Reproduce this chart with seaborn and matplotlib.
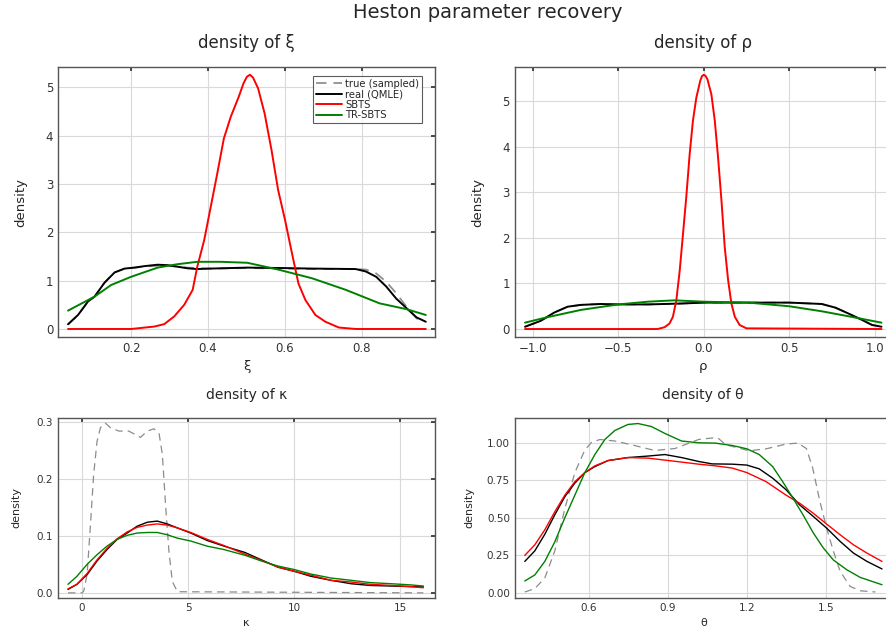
import numpy as np
import pandas as pd
import matplotlib
matplotlib.use("Agg")
import matplotlib.pyplot as plt
import seaborn as sns

SERIES = ["true (sampled)", "real (QMLE)", "SBTS", "TR-SBTS"]

# ---- xi ----
xi_true_x = [0.036, 0.062, 0.088, 0.105, 0.131, 0.157, 0.183, 0.209, 0.234, 0.269, 0.295, 0.32, 0.347, 0.372, 0.407, 0.502, 0.6, 0.67, 0.784, 0.81, 0.837, 0.863, 0.889, 0.916, 0.942, 0.96]
xi_true_y = [0.097, 0.29, 0.57, 0.67, 0.96, 1.17, 1.25, 1.27, 1.29, 1.31, 1.31, 1.29, 1.27, 1.26, 1.25, 1.26, 1.25, 1.24, 1.24, 1.23, 1.15, 0.98, 0.74, 0.46, 0.22, 0.13]
xi_qmle_x = [0.036, 0.062, 0.088, 0.105, 0.131, 0.157, 0.183, 0.209, 0.234, 0.269, 0.295, 0.32, 0.347, 0.372, 0.407, 0.502, 0.6, 0.67, 0.784, 0.81, 0.837, 0.863, 0.889, 0.916, 0.942, 0.966]
xi_qmle_y = [0.097, 0.29, 0.57, 0.67, 0.96, 1.17, 1.25, 1.27, 1.30, 1.33, 1.32, 1.29, 1.255, 1.24, 1.25, 1.27, 1.26, 1.25, 1.24, 1.19, 1.08, 0.88, 0.63, 0.43, 0.24, 0.15]
xi_sbts_x = [0.036, 0.2, 0.26, 0.286, 0.312, 0.338, 0.36, 0.372, 0.39, 0.407, 0.424, 0.441, 0.459, 0.48, 0.492, 0.501, 0.509, 0.517, 0.53, 0.547, 0.565, 0.582, 0.6, 0.618, 0.635, 0.653, 0.679, 0.705, 0.74, 0.784, 0.966]
xi_sbts_y = [0.0, 0.0, 0.05, 0.10, 0.26, 0.50, 0.81, 1.29, 1.84, 2.53, 3.22, 3.94, 4.39, 4.81, 5.08, 5.22, 5.26, 5.2, 4.98, 4.46, 3.70, 2.88, 2.26, 1.57, 0.94, 0.60, 0.29, 0.15, 0.03, 0.0, 0.0]
xi_tr_x = [0.036, 0.105, 0.148, 0.2, 0.269, 0.32, 0.372, 0.433, 0.502, 0.582, 0.67, 0.758, 0.846, 0.916, 0.966]
xi_tr_y = [0.38, 0.67, 0.91, 1.08, 1.27, 1.34, 1.39, 1.39, 1.37, 1.23, 1.05, 0.81, 0.53, 0.41, 0.29]

# ---- rho ----
rho_qmle_x = [-1.045, -0.953, -0.875, -0.796, -0.718, -0.6, -0.5, -0.327, -0.13, 0.0, 0.26, 0.5, 0.69, 0.77, 0.847, 0.926, 0.984, 1.04]
rho_qmle_y = [0.05, 0.18, 0.36, 0.49, 0.53, 0.55, 0.54, 0.54, 0.56, 0.58, 0.58, 0.58, 0.55, 0.47, 0.34, 0.20, 0.09, 0.05]
rho_true_x = rho_qmle_x
rho_true_y = rho_qmle_y
rho_sbts_x = [-1.045, -0.27, -0.229, -0.2, -0.18, -0.16, -0.14, -0.121, -0.102, -0.082, -0.063, -0.043, -0.02, -0.01, 0.0, 0.01, 0.022, 0.045, 0.065, 0.084, 0.104, 0.123, 0.143, 0.162, 0.182, 0.21, 0.25, 1.04]
rho_sbts_y = [0.0, 0.0, 0.04, 0.12, 0.27, 0.63, 1.29, 2.09, 2.89, 3.84, 4.57, 5.08, 5.45, 5.55, 5.58, 5.56, 5.48, 5.15, 4.57, 3.77, 2.82, 1.80, 1.07, 0.56, 0.27, 0.09, 0.015, 0.0]
rho_tr_x = [-1.045, -0.914, -0.718, -0.5, -0.327, -0.17, 0.0, 0.26, 0.5, 0.69, 0.847, 1.04]
rho_tr_y = [0.14, 0.26, 0.42, 0.54, 0.60, 0.63, 0.60, 0.58, 0.50, 0.39, 0.28, 0.14]

# ---- kappa ----
kappa_true_x = [-0.66, 0.0, 0.08, 0.24, 0.39, 0.55, 0.71, 0.87, 1.1, 1.34, 1.74, 2.2, 2.76, 3.08, 3.39, 3.63, 3.79, 3.94, 4.1, 4.26, 4.5, 16.1]
kappa_true_y = [0.0, 0.0, 0.003, 0.032, 0.114, 0.208, 0.266, 0.29, 0.298, 0.29, 0.284, 0.284, 0.273, 0.284, 0.288, 0.281, 0.243, 0.155, 0.073, 0.02, 0.002, 0.0]
kappa_qmle_x = [-0.66, -0.24, 0.24, 0.71, 1.18, 1.66, 2.13, 2.6, 3.08, 3.55, 4.02, 4.5, 5.13, 5.9, 6.7, 7.68, 8.46, 9.25, 10.0, 10.8, 11.75, 12.7, 13.6, 14.6, 15.5, 16.1]
kappa_qmle_y = [0.006, 0.015, 0.032, 0.056, 0.076, 0.094, 0.105, 0.117, 0.124, 0.126, 0.121, 0.114, 0.105, 0.092, 0.082, 0.071, 0.058, 0.045, 0.038, 0.029, 0.022, 0.016, 0.013, 0.012, 0.011, 0.0105]
kappa_sbts_x = kappa_qmle_x
kappa_sbts_y = [0.007, 0.015, 0.034, 0.058, 0.078, 0.095, 0.107, 0.115, 0.119, 0.121, 0.119, 0.114, 0.106, 0.094, 0.083, 0.068, 0.057, 0.045, 0.038, 0.031, 0.022, 0.019, 0.015, 0.013, 0.011, 0.009]
kappa_tr_x = kappa_qmle_x
kappa_tr_y = [0.015, 0.029, 0.05, 0.067, 0.082, 0.094, 0.101, 0.105, 0.106, 0.106, 0.102, 0.096, 0.091, 0.082, 0.076, 0.066, 0.056, 0.047, 0.041, 0.033, 0.026, 0.022, 0.018, 0.016, 0.014, 0.012]

# ---- theta ----
theta_true_x = [0.357, 0.395, 0.433, 0.471, 0.509, 0.547, 0.585, 0.61, 0.642, 0.699, 0.762, 0.85, 0.927, 1.017, 1.068, 1.09, 1.12, 1.209, 1.273, 1.35, 1.394, 1.426, 1.45, 1.477, 1.503, 1.528, 1.554, 1.592, 1.63, 1.688]
theta_true_y = [0.007, 0.029, 0.10, 0.28, 0.56, 0.80, 0.95, 1.0, 1.02, 1.01, 0.985, 0.947, 0.96, 1.02, 1.03, 1.03, 0.985, 0.945, 0.958, 0.99, 0.996, 0.96, 0.83, 0.61, 0.43, 0.28, 0.144, 0.044, 0.015, 0.007]
theta_qmle_x = [0.357, 0.395, 0.433, 0.471, 0.509, 0.547, 0.585, 0.623, 0.673, 0.749, 0.825, 0.889, 0.952, 1.017, 1.068, 1.145, 1.2, 1.247, 1.298, 1.349, 1.4, 1.452, 1.503, 1.554, 1.605, 1.656, 1.713]
theta_qmle_y = [0.21, 0.28, 0.39, 0.52, 0.64, 0.73, 0.80, 0.84, 0.88, 0.90, 0.91, 0.92, 0.90, 0.874, 0.858, 0.856, 0.85, 0.825, 0.763, 0.686, 0.586, 0.509, 0.431, 0.343, 0.265, 0.21, 0.16]
theta_sbts_x = [0.357, 0.395, 0.433, 0.471, 0.509, 0.547, 0.585, 0.623, 0.673, 0.749, 0.825, 0.889, 0.952, 1.017, 1.08, 1.145, 1.2, 1.273, 1.349, 1.4, 1.452, 1.503, 1.554, 1.605, 1.656, 1.713]
theta_sbts_y = [0.25, 0.32, 0.42, 0.54, 0.65, 0.74, 0.80, 0.845, 0.88, 0.90, 0.896, 0.883, 0.87, 0.856, 0.845, 0.83, 0.80, 0.74, 0.65, 0.597, 0.53, 0.458, 0.387, 0.32, 0.265, 0.21]
theta_tr_x = [0.357, 0.395, 0.433, 0.471, 0.509, 0.547, 0.585, 0.623, 0.661, 0.699, 0.749, 0.787, 0.838, 0.889, 0.952, 1.017, 1.08, 1.145, 1.2, 1.247, 1.298, 1.336, 1.375, 1.413, 1.452, 1.49, 1.528, 1.579, 1.63, 1.713]
theta_tr_y = [0.08, 0.12, 0.21, 0.34, 0.50, 0.65, 0.80, 0.92, 1.02, 1.08, 1.12, 1.126, 1.106, 1.06, 1.01, 0.998, 0.996, 0.98, 0.958, 0.92, 0.84, 0.74, 0.63, 0.52, 0.40, 0.30, 0.22, 0.155, 0.104, 0.055]

colors = {"true (sampled)": "#8c8c8c", "real (QMLE)": "black", "SBTS": "#ff0000", "TR-SBTS": "#008000"}


def make_df(xs, ys):
    frames = []
    for name, x, y in zip(SERIES, xs, ys):
        frames.append(pd.DataFrame({"x": x, "density": y, "series": name}))
    return pd.concat(frames, ignore_index=True)


def draw_panel(ax, df, lw, title, xlabel, tsize, lsize, ksize, ypad):
    for name in SERIES:
        sub = df[df["series"] == name]
        sns.lineplot(data=sub, x="x", y="density", ax=ax, color=colors[name],
                     linewidth=lw if name != "true (sampled)" else lw * 0.9,
                     linestyle=(0, (6, 4)) if name == "true (sampled)" else "-",
                     estimator=None, sort=False, label=name, legend=False)
    ax.set_title(title, fontsize=tsize, pad=14)
    ax.set_xlabel(xlabel, fontsize=lsize)
    ax.set_ylabel("density", fontsize=lsize, labelpad=ypad)
    ax.tick_params(direction="in", top=True, right=True, labelsize=ksize,
                   colors="#333333", length=3)
    ax.grid(True, color="#d9d9d9", linewidth=0.8)
    for s in ax.spines.values():
        s.set_color("#555555")
        s.set_linewidth(1.0)


sns.set_theme(style="whitegrid")
plt.rcParams["font.family"] = ["DejaVu Sans"]

fig = plt.figure(figsize=(8.86, 6.33), dpi=100)
ax1 = fig.add_axes([0.0655, 0.4676, 0.4255, 0.4265])
ax2 = fig.add_axes([0.581, 0.4676, 0.4255, 0.4265])
ax3 = fig.add_axes([0.0655, 0.0553, 0.4255, 0.2844])
ax4 = fig.add_axes([0.581, 0.0553, 0.4255, 0.2844])

draw_panel(ax1, make_df([xi_true_x, xi_qmle_x, xi_sbts_x, xi_tr_x], [xi_true_y, xi_qmle_y, xi_sbts_y, xi_tr_y]),
           1.4, "density of ξ", "ξ", 12, 9.5, 8.5, 13)
ax1.set_xlim(0.01, 0.99)
ax1.set_ylim(-0.166, 5.42)
ax1.set_xticks([0.2, 0.4, 0.6, 0.8])
ax1.set_xticklabels(["0.2", "0.4", "0.6", "0.8"])
ax1.set_yticks([0, 1, 2, 3, 4, 5])
leg = ax1.legend(loc="upper right", fontsize=7.2, frameon=True, fancybox=False,
                 handlelength=2.6, borderpad=0.3, labelspacing=0.05,
                 handletextpad=0.3, borderaxespad=0,
                 bbox_to_anchor=(0.966, 0.967))
leg.get_frame().set_edgecolor("#333333")
leg.get_frame().set_linewidth(0.8)

draw_panel(ax2, make_df([rho_true_x, rho_qmle_x, rho_sbts_x, rho_tr_x], [rho_true_y, rho_qmle_y, rho_sbts_y, rho_tr_y]),
           1.4, "density of ρ", "ρ", 12, 9.5, 8.5, 13)
ax2.set_xlim(-1.105, 1.10)
ax2.set_ylim(-0.175, 5.75)
ax2.set_xticks([-1.0, -0.5, 0.0, 0.5, 1.0])
ax2.set_xticklabels(["\u22121.0", "\u22120.5", "0.0", "0.5", "1.0"])
ax2.set_yticks([0, 1, 2, 3, 4, 5])

draw_panel(ax3, make_df([kappa_true_x, kappa_qmle_x, kappa_sbts_x, kappa_tr_x], [kappa_true_y, kappa_qmle_y, kappa_sbts_y, kappa_tr_y]),
           1.0, "density of κ", "κ", 10, 8, 7.5, 11)
ax3.set_xlim(-1.13, 16.65)
ax3.set_ylim(-0.009, 0.307)
ax3.set_xticks([0, 5, 10, 15])
ax3.set_yticks([0.0, 0.1, 0.2, 0.3])
ax3.set_yticklabels(["0.0", "0.1", "0.2", "0.3"])

draw_panel(ax4, make_df([theta_true_x, theta_qmle_x, theta_sbts_x, theta_tr_x], [theta_true_y, theta_qmle_y, theta_sbts_y, theta_tr_y]),
           1.0, "density of θ", "θ", 10, 8, 7.5, 9)
ax4.set_xlim(0.319, 1.75)
ax4.set_ylim(-0.033, 1.163)
ax4.set_xticks([0.6, 0.9, 1.2, 1.5])
ax4.set_xticklabels(["0.6", "0.9", "1.2", "1.5"])
ax4.set_yticks([0.0, 0.25, 0.5, 0.75, 1.0])
ax4.set_yticklabels(["0.00", "0.25", "0.50", "0.75", "1.00"])

fig.suptitle("Heston parameter recovery", fontsize=14, x=0.551, y=0.995)
fig.savefig("out.png", dpi=100)
